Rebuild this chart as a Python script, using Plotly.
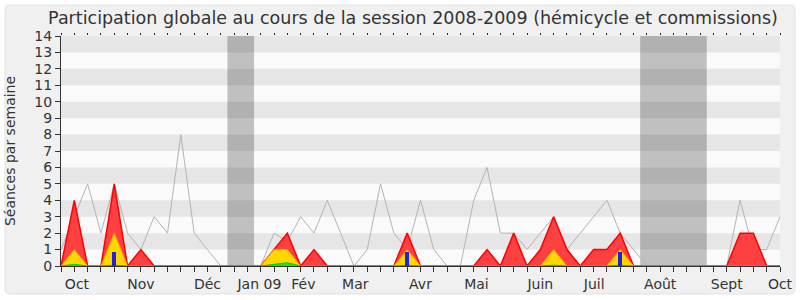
import plotly.graph_objects as go

weeks = list(range(55))

# Séances par semaine (présence totale, hémicycle, etc.)
presence = [0, 4, 0, 0, 5, 0, 1, 0, 0, 0, 0, 0, 0, 0, 0, 0, 1, 2, 0, 1,
            0, 0, 0, 0, 0, 0, 2, 0, 0, 0, 0, 0, 1, 0, 2, 0, 1, 3, 1, 0,
            1, 1, 2, 0, 0, 0, 0, 0, 0, 0, 0, 2, 2, 0, 0]
hemicycle = [0, 1, 0, 0, 2, 0, 0, 0, 0, 0, 0, 0, 0, 0, 0, 0, 1, 1, 0, 0,
             0, 0, 0, 0, 0, 0, 1, 0, 0, 0, 0, 0, 0, 0, 0, 0, 0, 1, 0, 0,
             0, 0, 1, 0, 0, 0, 0, 0, 0, 0, 0, 0, 0, 0, 0]
vert = [0, 0.1, 0, 0, 0.05, 0, 0, 0, 0, 0, 0, 0, 0, 0, 0, 0, 0.1, 0.2, 0, 0,
        0, 0, 0, 0, 0, 0, 0.05, 0, 0, 0, 0, 0, 0, 0, 0, 0, 0, 0.05, 0, 0,
        0, 0, 0.05, 0, 0, 0, 0, 0, 0, 0, 0, 0, 0, 0, 0]
mediane = [1, 3, 5, 2, 5, 2, 1, 3, 2, 8, 2, 1, 0, 0, 0, 0, 2, 1.5, 3, 2,
           4, 2, 0, 1, 5, 2, 1, 4, 1, 0, 0, 4, 6, 2, 2, 1, 2, 3, 1, 2,
           3, 4, 2, 1, 0, 0, 0, 0, 0, 0, 0, 4, 1, 1, 3]
bar_weeks = [4, 26, 42]
bar_values = [0.85, 0.85, 0.85]

vacances = [(12.5, 14.5), (43.5, 48.5)]
month_pos = [1.2, 6.0, 11.0, 14.9, 18.2, 22.1, 27.0, 31.2, 36.0, 40.05, 45.0, 50.0, 54.0]
month_labels = ["Oct", "Nov", "Déc", "Jan 09", "Fév", "Mar", "Avr", "Mai",
                "Juin", "Juil", "Août", "Sept", "Oct"]

fig = go.Figure()
fig.add_trace(go.Scatter(x=weeks, y=mediane, mode="lines",
                         line=dict(color="#b4b4b4", width=1), hoverinfo="skip"))
fig.add_trace(go.Scatter(x=weeks, y=presence, mode="lines", fill="tozeroy",
                         fillcolor="#ff4040", line=dict(color="#ff0000", width=1.5)))
fig.add_trace(go.Scatter(x=weeks, y=hemicycle, mode="lines", fill="tozeroy",
                         fillcolor="#ffd700", line=dict(color="#ffa000", width=1)))
fig.add_trace(go.Scatter(x=weeks, y=vert, mode="lines", fill="tozeroy",
                         fillcolor="#22dd22", line=dict(color="#00cc00", width=1)))
fig.add_trace(go.Bar(x=bar_weeks, y=bar_values, width=0.3, xaxis="x4",
                     marker=dict(color="#2222dd", line=dict(width=0))))
fig.add_trace(go.Scatter(x=[None], y=[None], xaxis="x2", showlegend=False, hoverinfo="skip"))
fig.add_trace(go.Scatter(x=[None], y=[None], xaxis="x3", showlegend=False, hoverinfo="skip"))

shapes = []
# outer rounded box
shapes.append(dict(type="path", xref="paper", yref="paper", xsizemode="pixel", ysizemode="pixel",
                   xanchor=0, yanchor=0,
                   path="M -51,-28 L 729,-28 Q 734,-28 734,-23 L 734,256 Q 734,261 729,261 "
                        "L -51,261 Q -56,261 -56,256 L -56,-23 Q -56,-28 -51,-28 Z",
                   fillcolor="#f0f0f0", line=dict(color="#e2e2e2", width=1), layer="below"))
shapes.append(dict(type="rect", xref="paper", yref="paper", x0=0, x1=1, y0=0, y1=1,
                   fillcolor="#fafafa", line=dict(width=0), layer="below"))
for a, b in vacances:
    shapes.append(dict(type="rect", xref="x", yref="y", x0=a, x1=b, y0=0, y1=14,
                       fillcolor="#c0c0c0", line=dict(width=0), layer="below"))
for k in range(7):
    shapes.append(dict(type="rect", xref="x", yref="y", x0=0, x1=54, y0=2 * k + 1, y1=2 * k + 2,
                       fillcolor="rgba(0,0,0,0.08)", line=dict(width=0), layer="below"))

fig.update_layout(
    width=800, height=300,
    margin=dict(l=61, r=20, t=36, b=34),
    paper_bgcolor="white", plot_bgcolor="#fafafa",
    showlegend=False, bargap=0,
    font=dict(family="DejaVu Sans", size=14, color="#333333"),
    title=dict(text="Participation globale au cours de la session 2008-2009 (hémicycle et commissions)",
               x=413 / 800, xanchor="center", y=1 - 18 / 300, yanchor="middle",
               font=dict(family="DejaVu Sans", size=17.5, color="#333333")),
    shapes=shapes,
    xaxis=dict(range=[0, 54], tick0=0, dtick=1, ticks="outside", ticklen=5, tickcolor="#333333",
               showticklabels=False, showline=True, linecolor="#333333", linewidth=1,
               showgrid=False, zeroline=False, automargin=False),
    xaxis2=dict(range=[0, 54], overlaying="x", side="top", anchor="y", tick0=0, dtick=1,
                ticks="outside", ticklen=2, tickcolor="#222222", showticklabels=False,
                showline=False, showgrid=False, zeroline=False, automargin=False),
    xaxis3=dict(range=[0, 54], overlaying="x", side="bottom", anchor="y",
                tickmode="array", tickvals=month_pos, ticktext=month_labels,
                ticks="outside", ticklen=5, tickcolor="rgba(0,0,0,0)",
                tickfont=dict(size=14, color="#333333"),
                showline=False, showgrid=False, zeroline=False, automargin=False),
    xaxis4=dict(range=[0, 54], overlaying="x", anchor="y", visible=False, automargin=False),
    yaxis=dict(range=[0, 14], tick0=0, dtick=1, ticks="outside", ticklen=5, tickcolor="#333333",
               showline=True, linecolor="#333333", linewidth=1, showgrid=False, zeroline=False,
               tickfont=dict(size=14, color="#333333"), automargin=False,
               title=dict(text="Séances par semaine", font=dict(size=14, color="#333333"))),
)

fig.write_html("out.html")
